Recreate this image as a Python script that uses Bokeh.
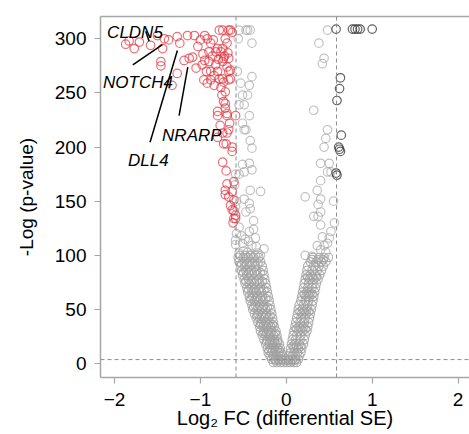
from bokeh.plotting import figure
from bokeh.models import Range1d, LinearAxis, FixedTicker, Span, ColumnDataSource
from bokeh.core.properties import value
from bokeh.embed import file_html
from bokeh.resources import INLINE

# ---------------- data ----------------
# significant, down-regulated (red)
red_x = [-1.87, -1.83, -1.77, -1.71, -1.58, -1.50, -1.44, -1.42, -1.37, -1.27, -1.24, -1.15,
         -1.07, -1.03, -1.00, -0.95, -0.92, -0.88, -0.85, -0.80, -0.78, -0.76, -0.74, -0.71,
         -0.69, -0.67, -0.65, -0.63, -0.74, -0.68, -0.72, -0.82, -0.86, -0.90, -0.79,
         -1.46, -1.46, -1.27, -1.33, -1.19, -1.13, -1.09, -1.05, -0.98, -0.93, -0.90, -0.82,
         -0.74, -0.73, -0.67, -0.69, -0.65, -0.67, -0.92, -0.88, -0.84, -0.78, -0.73, -0.74,
         -0.67, -0.65, -0.71, -0.75, -0.73, -0.71, -0.71, -0.80, -0.69, -0.59, -0.80, -0.69,
         -0.67, -0.80, -0.74, -0.69, -0.73, -0.70, -0.63, -0.63, -0.74, -0.69, -0.61, -0.71,
         -0.63, -0.71, -0.67, -0.61, -0.65, -0.63, -0.61, -0.59, -0.61, -0.59, -0.62,
         -0.97, -0.95, -0.88, -0.84, -0.80, -0.76, -0.96, -0.77, -0.66, -0.70]
red_y = [295, 298, 291, 297, 294, 303, 291, 300, 299, 302, 296, 303,
         303, 293, 299, 303, 300, 296, 299, 291, 308, 288, 308, 300,
         296, 308, 308, 306, 291, 287, 284, 288, 284, 288, 281,
         279, 275, 268, 257, 280, 282, 283, 273, 276, 270, 279, 276,
         279, 282, 282, 274, 271, 270, 259, 262, 257, 263, 260, 263,
         262, 263, 251, 248, 242, 240, 236, 233, 229, 229, 229, 231,
         216, 209, 213, 213, 203, 203, 200, 196, 186, 166, 168, 160,
         159, 156, 154, 151, 146, 142, 141, 137, 134, 134, 130,
         286, 280, 270, 266, 270, 255, 262, 220, 222, 178]

# not significant (grey), upper part
grey_x = [-0.55, -0.47, -0.45, -0.42, -0.40, 0.48, 0.38, 0.44, 0.42, -0.40, -0.43, -0.53,
          -0.45, -0.51, -0.55, -0.49, -0.43, 0.32, -0.51, -0.47, 0.48, 0.46, -0.49, -0.42,
          -0.40, -0.43, -0.51, -0.49, -0.40, -0.55, -0.42, -0.30, -0.49, -0.43, -0.42, -0.47,
          -0.38, -0.55, -0.43, -0.38, -0.51, -0.40, -0.35, -0.26, -0.59, -0.47,
          0.44, 0.40, 0.50, 0.52, 0.48, 0.40, 0.36, 0.22, 0.40, 0.37, 0.40, 0.32, 0.37, 0.40,
          0.50, 0.48, 0.44, 0.36, 0.40, 0.46, 0.22, 0.30, 0.42, 0.52,
          -0.59, -0.58, -0.59, -0.58, -0.59, -0.60, -0.52, -0.48, -0.44, -0.36, -0.50, -0.45,
          -0.55, -0.41, -0.33, -0.30, -0.57, -0.56, 0.55, 0.56]
grey_y = [308, 308, 308, 308, 296, 308, 296, 282, 277, 265, 257, 259,
          248, 248, 239, 239, 229, 234, 222, 216, 216, 208, 216, 206,
          199, 185, 184, 177, 179, 175, 160, 159, 152, 148, 143, 140,
          132, 126, 122, 124, 111, 109, 108, 106, 114, 98,
          200, 185, 185, 177, 177, 169, 160, 154, 152, 147, 140, 136, 136, 128,
          116, 111, 109, 109, 105, 103, 100, 99, 117, 122,
          110, 120, 145, 150, 175, 165, 118, 115, 113, 116, 104, 103,
          102, 100, 102, 100, 270, 300, 150, 130]

# dense V-shaped part (grey), row by row
v_rows_y = [1, 4, 7, 10, 14, 18, 22, 26, 30, 34, 38, 42, 46, 50, 54, 58, 62, 66, 70, 74,
            78, 82, 86, 90, 94, 98,
            3, 12, 20, 28, 36, 44, 52, 60, 68, 76, 84, 92, 100,
            16, 32, 48, 64, 80, 96]
v_rows_x = [
    [-0.15, -0.11, -0.07, -0.03, 0.01, 0.05, 0.09, 0.12],
    [-0.17, -0.13, -0.09, -0.05, -0.01, 0.03, 0.07, 0.11, 0.14],
    [-0.19, -0.15, -0.11, -0.07, -0.04, 0.03, 0.07, 0.11, 0.15],
    [-0.21, -0.17, -0.13, -0.09, -0.06, 0.05, 0.09, 0.13, 0.17],
    [-0.22, -0.18, -0.14, -0.10, -0.07, 0.05, 0.09, 0.14, 0.18],
    [-0.24, -0.20, -0.16, -0.12, -0.08, 0.06, 0.10, 0.15, 0.20],
    [-0.26, -0.22, -0.18, -0.14, -0.10, 0.07, 0.11, 0.16, 0.21],
    [-0.28, -0.24, -0.20, -0.15, -0.11, 0.08, 0.12, 0.17, 0.22],
    [-0.30, -0.26, -0.21, -0.17, -0.12, 0.09, 0.14, 0.19, 0.24],
    [-0.31, -0.27, -0.23, -0.18, -0.14, 0.10, 0.15, 0.20, 0.25],
    [-0.33, -0.29, -0.24, -0.20, -0.15, 0.11, 0.16, 0.21, 0.26],
    [-0.35, -0.31, -0.26, -0.21, -0.16, 0.12, 0.17, 0.22, 0.27],
    [-0.37, -0.33, -0.28, -0.23, -0.17, 0.13, 0.18, 0.23, 0.28],
    [-0.39, -0.34, -0.29, -0.24, -0.18, 0.14, 0.19, 0.24, 0.29],
    [-0.40, -0.36, -0.31, -0.26, -0.19, 0.15, 0.20, 0.25, 0.30],
    [-0.42, -0.37, -0.32, -0.27, -0.20, 0.17, 0.22, 0.26, 0.31],
    [-0.43, -0.39, -0.34, -0.28, -0.21, 0.18, 0.23, 0.27, 0.32],
    [-0.45, -0.40, -0.35, -0.29, -0.22, 0.19, 0.24, 0.28, 0.33],
    [-0.46, -0.41, -0.36, -0.30, -0.23, 0.20, 0.25, 0.30, 0.34],
    [-0.48, -0.43, -0.37, -0.31, -0.24, 0.21, 0.26, 0.31, 0.35],
    [-0.49, -0.44, -0.38, -0.32, -0.25, 0.22, 0.27, 0.32, 0.37],
    [-0.51, -0.46, -0.40, -0.34, -0.26, 0.23, 0.28, 0.34, 0.39],
    [-0.52, -0.47, -0.41, -0.35, -0.27, 0.24, 0.30, 0.36, 0.41],
    [-0.53, -0.48, -0.42, -0.36, -0.28, 0.25, 0.32, 0.38, 0.43],
    [-0.55, -0.49, -0.43, -0.37, -0.30, 0.28, 0.35, 0.41, 0.46],
    [-0.56, -0.50, -0.44, -0.38, -0.32, 0.31, 0.38, 0.44, 0.49],
    [-0.13, -0.09, -0.05, -0.01, 0.03, 0.07, 0.10],
    [-0.20, -0.16, -0.12, -0.08],
    [-0.23, -0.19, -0.14, -0.10],
    [-0.27, -0.23, -0.18, -0.13],
    [-0.30, -0.26, -0.21, -0.16],
    [-0.34, -0.29, -0.24, -0.19],
    [-0.38, -0.33, -0.27, -0.22],
    [-0.41, -0.35, -0.30, -0.24],
    [-0.44, -0.38, -0.32, -0.26],
    [-0.47, -0.41, -0.35, -0.28],
    [-0.50, -0.44, -0.37, -0.30],
    [-0.52, -0.46, -0.40, -0.33],
    [-0.54, -0.48, -0.42, -0.36],
    [0.08, 0.12, 0.17],
    [0.12, 0.17, 0.22],
    [0.16, 0.21, 0.26],
    [0.21, 0.26, 0.30],
    [0.25, 0.30, 0.35],
    [0.30, 0.37, 0.43],
]

# significant, up-regulated (dark)
dark_x = [0.58, 0.77, 0.80, 0.83, 0.86, 1.00, 0.63, 0.62, 0.59, 0.64, 0.62, 0.63, 0.61, 0.58, 0.59]
dark_y = [309, 309, 309, 309, 309, 309, 264, 254, 243, 211, 198, 196, 200, 176, 174]

# labelled genes
gene_names = ["CLDN5", "NOTCH4", "DLL4", "NRARP"]
gene_text_x = [-2.086, -2.133, -1.842, -1.446]
gene_text_y = [305.8, 259.6, 187.5, 210.6]
gene_line_x0 = [-1.636, -1.787, -1.586, -1.248]
gene_line_y0 = [307.0, 276.0, 204.4, 229.1]
gene_line_x1 = [-1.597, -1.442, -1.268, -1.147]
gene_line_y1 = [297.8, 294.7, 289.2, 273.8]

fc_cut = 0.585
p_cut = 3.7
x_ticks = [-2, -1, 0, 1, 2]
y_ticks = [0, 50, 100, 150, 200, 250, 300]
x_title = "Log\u2082 FC (differential SE)"
y_title = "-Log (p-value)"

# ---------------- figure ----------------
FONT = "Liberation Sans"
p = figure(width=469, height=434, output_backend="svg", toolbar_location=None,
           x_range=Range1d(-2.163, 2.133), y_range=Range1d(-12.85, 320.6),
           min_border_left=100, min_border_right=0, min_border_top=16, min_border_bottom=57)
p.grid.visible = False
p.outline_line_color = None
p.background_fill_color = "white"
p.border_fill_color = "white"

axis_grey = "#a6a6a6"
for ax in (p.xaxis[0], p.yaxis[0]):
    ax.axis_line_color = axis_grey
    ax.axis_line_width = 1.5
    ax.major_tick_line_color = axis_grey
    ax.major_tick_line_width = 1.2
    ax.major_tick_out = 6
    ax.major_tick_in = 0
    ax.minor_tick_line_color = None
    ax.major_label_text_font = FONT
    ax.major_label_text_font_size = "19px"
    ax.major_label_text_color = "black"
    ax.axis_label_text_font = FONT
    ax.axis_label_text_font_style = "normal"
    ax.axis_label_text_color = "black"

p.xaxis.axis_label_text_font_size = "20px"
p.yaxis.axis_label_text_font_size = "19px"
p.xaxis.ticker = FixedTicker(ticks=x_ticks)
p.yaxis.ticker = FixedTicker(ticks=y_ticks)
p.xaxis.axis_label = x_title
p.yaxis.axis_label = y_title
p.xaxis.major_label_standoff = 9
p.xaxis.axis_label_standoff = -2
p.yaxis.major_label_standoff = 8
p.yaxis.axis_label_standoff = 15

top_axis = LinearAxis(ticker=FixedTicker(ticks=[]), axis_line_color=axis_grey,
                      axis_line_width=1.5, major_label_text_font_size="0px",
                      major_tick_line_color=None, minor_tick_line_color=None)
p.add_layout(top_axis, "above")

# threshold lines
for loc in (-fc_cut, fc_cut):
    p.add_layout(Span(location=loc, dimension="height", line_color="#8c8c8c",
                      line_dash="4 3", line_width=1))
p.add_layout(Span(location=p_cut, dimension="width", line_color="#8c8c8c",
                  line_dash="4 3", line_width=1))

# points
vx, vy = [], []
for yv, row in zip(v_rows_y, v_rows_x):
    for xv in row:
        vx.append(xv)
        vy.append(yv)

p.scatter(vx, vy, marker="circle", size=8.5, fill_color=None,
          line_color="#a0a0a0", line_alpha=0.8, line_width=1.2)
p.scatter(grey_x, grey_y, marker="circle", size=8.5, fill_color=None,
          line_color="#a8a8a8", line_alpha=0.7, line_width=1.2)
p.scatter(red_x, red_y, marker="circle", size=8.5, fill_color=None,
          line_color="#e3323c", line_alpha=0.7, line_width=1.2)
p.scatter(dark_x, dark_y, marker="circle", size=8.5, fill_color=None,
          line_color="#3c3c3c", line_alpha=0.8, line_width=1.2)

# gene labels
p.segment(x0=gene_line_x0, y0=gene_line_y0, x1=gene_line_x1, y1=gene_line_y1,
          line_color="black", line_width=1.5)
src = ColumnDataSource(dict(x=gene_text_x, y=gene_text_y, t=gene_names))
p.text(x="x", y="y", text="t", source=src, text_font=value(FONT),
       text_font_size="17px", text_font_style="italic", text_color="black",
       text_align="left", text_baseline="alphabetic")

open("out.html", "w").write(file_html(p, INLINE))
